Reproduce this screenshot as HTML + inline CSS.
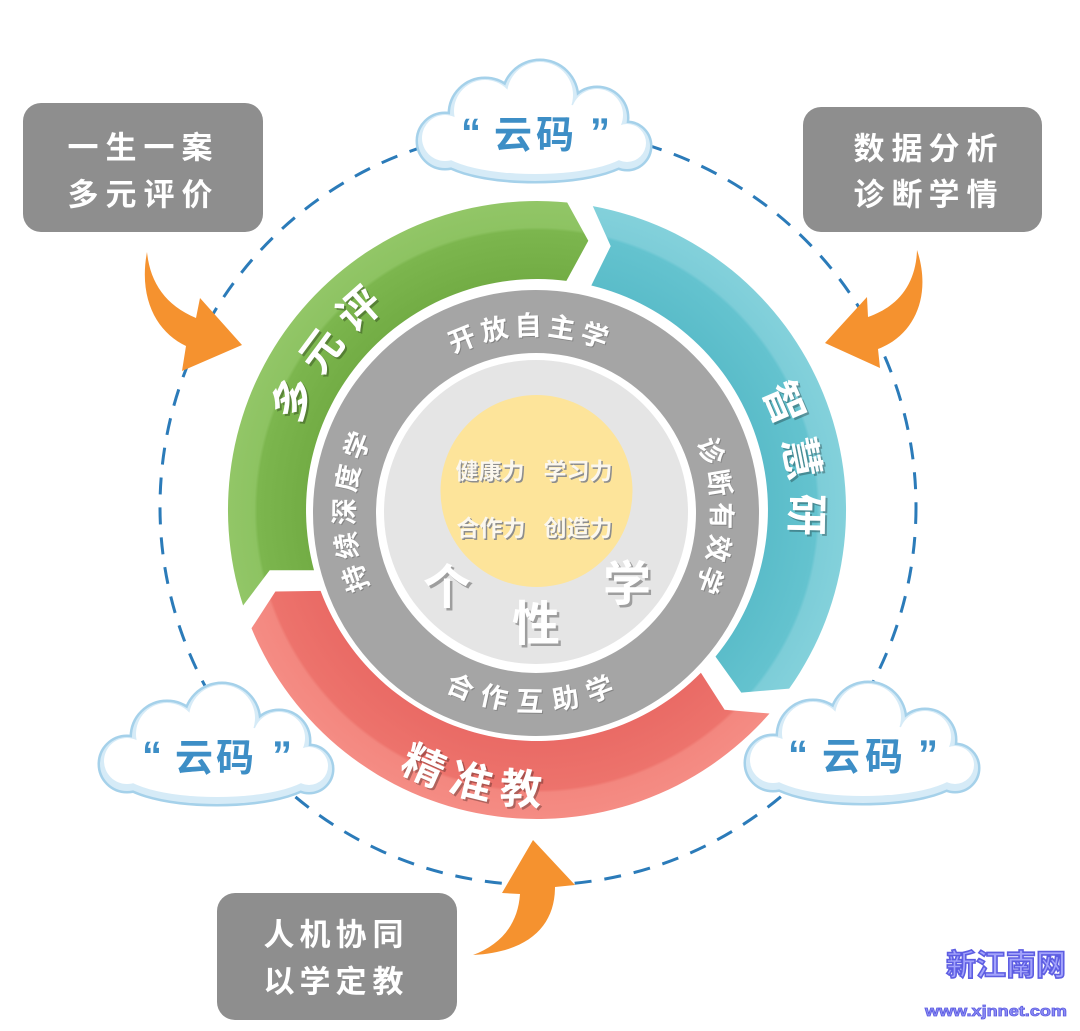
<!DOCTYPE html>
<html>
<head>
<meta charset="utf-8">
<style>
html,body{margin:0;padding:0;background:#fff;}
svg{display:block;}
text{font-family:"Liberation Sans","Noto Sans CJK SC","WenQuanYi Zen Hei",sans-serif;font-weight:bold;}
</style>
</head>
<body>
<svg width="1080" height="1031" viewBox="0 0 1080 1031" xmlns="http://www.w3.org/2000/svg">
<defs>
  <radialGradient id="gg" gradientUnits="userSpaceOnUse" cx="537" cy="510" r="309">
    <stop offset="0.74" stop-color="#72ac44"/>
    <stop offset="0.905" stop-color="#7cb64e"/>
    <stop offset="0.915" stop-color="#8dc362"/>
    <stop offset="1" stop-color="#92c667"/>
  </radialGradient>
  <radialGradient id="tg" gradientUnits="userSpaceOnUse" cx="537" cy="510" r="309">
    <stop offset="0.74" stop-color="#5abcc9"/>
    <stop offset="0.905" stop-color="#64c3cf"/>
    <stop offset="0.915" stop-color="#7dcdd8"/>
    <stop offset="1" stop-color="#83d1db"/>
  </radialGradient>
  <radialGradient id="rg" gradientUnits="userSpaceOnUse" cx="537" cy="510" r="309">
    <stop offset="0.74" stop-color="#e96a65"/>
    <stop offset="0.905" stop-color="#ed736c"/>
    <stop offset="0.915" stop-color="#f3877f"/>
    <stop offset="1" stop-color="#f58c84"/>
  </radialGradient>
  <g id="cs">
    <circle cx="-90" cy="5" r="27"/>
    <circle cx="-50" cy="-22" r="35"/>
    <circle cx="5" cy="-38" r="37"/>
    <circle cx="62" cy="-18" r="30"/>
    <circle cx="92" cy="10" r="23"/>
    <ellipse cx="0" cy="15" rx="100" ry="30"/>
    <ellipse cx="0" cy="0" rx="90" ry="35"/>
  </g>
  <g id="cw">
    <circle cx="-90" cy="2" r="23"/>
    <circle cx="-50" cy="-25" r="31"/>
    <circle cx="5" cy="-41" r="33"/>
    <circle cx="62" cy="-21" r="26"/>
    <circle cx="92" cy="7" r="19"/>
    <ellipse cx="0" cy="11" rx="96" ry="27"/>
    <ellipse cx="0" cy="-3" rx="86" ry="31"/>
  </g>
</defs>

<rect width="1080" height="1031" fill="#fff"/>

<!-- dashed circle -->
<circle cx="538" cy="507" r="378" fill="none" stroke="#2b7bb9" stroke-width="3" stroke-dasharray="17 13"/>

<!-- gray boxes -->
<rect x="23" y="103" width="240" height="129" rx="18" fill="#8e8e8e"/>
<rect x="803" y="107" width="239" height="125" rx="18" fill="#8e8e8e"/>
<rect x="217" y="893" width="240" height="127" rx="18" fill="#8e8e8e"/>
<g font-size="31" fill="#fff" text-anchor="middle" dominant-baseline="central">
  <text x="83 121 159 197" y="148">一生一案</text>
  <text x="83 121 159 197" y="195">多元评价</text>
  <text x="869 907 944 982" y="149">数据分析</text>
  <text x="869 907 944 982" y="195">诊断学情</text>
  <text x="279 315 351 388" y="935">人机协同</text>
  <text x="279 315 351 388" y="982">以学定教</text>
</g>

<!-- orange arrows -->
<g fill="#f5922f">
  <path d="M147,252 C150,282 165,305 196,318 L200,298 L242,345 L182,371 L186,346 C158,333 138,300 147,252 Z"/>
  <path d="M917,250 C916,282 900,306 868,317 L867,297 L825,343 L880,368 L878,349 C915,335 932,295 917,250 Z"/>
  <path d="M473,955 C500,945 518,925 520,894 L502,893 L533,840 L575,885 L555,887 C555,925 530,952 473,955 Z"/>
</g>

<!-- clouds -->
<g>
  <use href="#cs" transform="translate(535,136)" fill="#a5d1ea" stroke="#a5d1ea" stroke-width="5"/>
  <use href="#cs" transform="translate(535,136)" fill="#d6ebf7"/>
  <use href="#cw" transform="translate(535,136)" fill="#fff"/>
  <use href="#cs" transform="translate(217,759)" fill="#a5d1ea" stroke="#a5d1ea" stroke-width="5"/>
  <use href="#cs" transform="translate(217,759)" fill="#d6ebf7"/>
  <use href="#cw" transform="translate(217,759)" fill="#fff"/>
  <use href="#cs" transform="translate(863,758)" fill="#a5d1ea" stroke="#a5d1ea" stroke-width="5"/>
  <use href="#cs" transform="translate(863,758)" fill="#d6ebf7"/>
  <use href="#cw" transform="translate(863,758)" fill="#fff"/>
</g>
<g fill="#3d8ec6" font-size="38" text-anchor="middle">
  <text x="513" y="136" dominant-baseline="central">云</text>
  <text x="555" y="136" dominant-baseline="central">码</text>
  <text x="471" y="146" font-size="40">“</text>
  <text x="600" y="146" font-size="40">”</text>

  <text x="194" y="759" dominant-baseline="central">云</text>
  <text x="235" y="759" dominant-baseline="central">码</text>
  <text x="152" y="769" font-size="40">“</text>
  <text x="282" y="769" font-size="40">”</text>

  <text x="841" y="758" dominant-baseline="central">云</text>
  <text x="884" y="758" dominant-baseline="central">码</text>
  <text x="798" y="768" font-size="40">“</text>
  <text x="928" y="768" font-size="40">”</text>
</g>

<!-- outer colored ring -->
<path d="M243.1,605.5 A309,309 0 0 1 567.2,202.5 L588.3,240.8 L566.4,280.9 A231,231 0 0 0 314.0,570.2 L269.7,570.2 Z" fill="url(#gg)"/>
<path d="M592.8,206.1 A309,309 0 0 1 789.2,688.6 L741.3,692.6 L715.5,656.6 A231,231 0 0 0 591.3,285.5 L610.7,246.1 Z" fill="url(#tg)"/>
<path d="M769.5,713.5 A309,309 0 0 1 251.5,628.3 L275.4,591.5 L320.6,590.9 A231,231 0 0 0 700.9,672.8 L724.6,709.7 Z" fill="url(#rg)"/>

<!-- gray ring -->
<circle cx="536" cy="513" r="191.5" fill="none" stroke="#a5a5a5" stroke-width="63"/>
<circle cx="536" cy="512" r="152" fill="#e5e5e5"/>
<circle cx="536.5" cy="491" r="96" fill="#fde49a"/>

<!-- outer ring text -->
<g font-size="42" text-anchor="middle" dominant-baseline="central">
  <g transform="translate(539,512)" fill="rgba(0,0,0,0.28)">
    <text transform="rotate(294.5) translate(0,-268)">多</text>
    <text transform="rotate(306.5) translate(0,-268)">元</text>
    <text transform="rotate(318.5) translate(0,-268)">评</text>
    <text transform="rotate(66.6) translate(0,-269)">智</text>
    <text transform="rotate(78.8) translate(0,-269)">慧</text>
    <text transform="rotate(91) translate(0,-269)">研</text>
    <text transform="rotate(203.9) translate(0,-280) rotate(180)">精</text>
    <text transform="rotate(193.6) translate(0,-280) rotate(180)">准</text>
    <text transform="rotate(183.3) translate(0,-280) rotate(180)">教</text>
  </g>
  <g transform="translate(537,510)" fill="#fff">
    <text transform="rotate(294.5) translate(0,-268)">多</text>
    <text transform="rotate(306.5) translate(0,-268)">元</text>
    <text transform="rotate(318.5) translate(0,-268)">评</text>
    <text transform="rotate(66.6) translate(0,-269)">智</text>
    <text transform="rotate(78.8) translate(0,-269)">慧</text>
    <text transform="rotate(91) translate(0,-269)">研</text>
    <text transform="rotate(203.9) translate(0,-280) rotate(180)">精</text>
    <text transform="rotate(193.6) translate(0,-280) rotate(180)">准</text>
    <text transform="rotate(183.3) translate(0,-280) rotate(180)">教</text>
  </g>
</g>

<!-- gray ring text -->
<g font-size="27" text-anchor="middle" dominant-baseline="central">
  <g transform="translate(534,515)" fill="rgba(0,0,0,0.2)">
    <text transform="rotate(-22.1) translate(0,-188)">开</text>
    <text transform="rotate(-11.8) translate(0,-188)">放</text>
    <text transform="rotate(-1.5) translate(0,-188)">自</text>
    <text transform="rotate(8.8) translate(0,-188)">主</text>
    <text transform="rotate(19.1) translate(0,-188)">学</text>
    <text transform="rotate(70.5) translate(0,-188)">诊</text>
    <text transform="rotate(80.5) translate(0,-188)">断</text>
    <text transform="rotate(90.5) translate(0,-188)">有</text>
    <text transform="rotate(100.5) translate(0,-188)">效</text>
    <text transform="rotate(110.5) translate(0,-188)">学</text>
    <text transform="rotate(250.1) translate(0,-188)">持</text>
    <text transform="rotate(260.4) translate(0,-188)">续</text>
    <text transform="rotate(270.7) translate(0,-188)">深</text>
    <text transform="rotate(281) translate(0,-188)">度</text>
    <text transform="rotate(291.3) translate(0,-188)">学</text>
    <text transform="rotate(202.8) translate(0,-188) rotate(180)">合</text>
    <text transform="rotate(192) translate(0,-188) rotate(180)">作</text>
    <text transform="rotate(181) translate(0,-188) rotate(180)">互</text>
    <text transform="rotate(170) translate(0,-188) rotate(180)">助</text>
    <text transform="rotate(159.2) translate(0,-188) rotate(180)">学</text>
  </g>
  <g transform="translate(533,514)" fill="#fff">
    <text transform="rotate(-22.1) translate(0,-188)">开</text>
    <text transform="rotate(-11.8) translate(0,-188)">放</text>
    <text transform="rotate(-1.5) translate(0,-188)">自</text>
    <text transform="rotate(8.8) translate(0,-188)">主</text>
    <text transform="rotate(19.1) translate(0,-188)">学</text>
    <text transform="rotate(70.5) translate(0,-188)">诊</text>
    <text transform="rotate(80.5) translate(0,-188)">断</text>
    <text transform="rotate(90.5) translate(0,-188)">有</text>
    <text transform="rotate(100.5) translate(0,-188)">效</text>
    <text transform="rotate(110.5) translate(0,-188)">学</text>
    <text transform="rotate(250.1) translate(0,-188)">持</text>
    <text transform="rotate(260.4) translate(0,-188)">续</text>
    <text transform="rotate(270.7) translate(0,-188)">深</text>
    <text transform="rotate(281) translate(0,-188)">度</text>
    <text transform="rotate(291.3) translate(0,-188)">学</text>
    <text transform="rotate(202.8) translate(0,-188) rotate(180)">合</text>
    <text transform="rotate(192) translate(0,-188) rotate(180)">作</text>
    <text transform="rotate(181) translate(0,-188) rotate(180)">互</text>
    <text transform="rotate(170) translate(0,-188) rotate(180)">助</text>
    <text transform="rotate(159.2) translate(0,-188) rotate(180)">学</text>
  </g>
</g>

<!-- center texts -->
<g font-size="23" text-anchor="middle" dominant-baseline="central">
  <g fill="#8d8d8d" transform="translate(1.5,1.5)">
    <text x="490" y="471">健康力</text>
    <text x="578" y="471">学习力</text>
    <text x="491" y="528">合作力</text>
    <text x="578" y="528">创造力</text>
  </g>
  <g fill="#fbf7ee">
    <text x="490" y="471">健康力</text>
    <text x="578" y="471">学习力</text>
    <text x="491" y="528">合作力</text>
    <text x="578" y="528">创造力</text>
  </g>
</g>
<g font-size="48" text-anchor="middle" dominant-baseline="central">
  <g fill="#9e9e9e" transform="translate(2.5,2.5)">
    <text x="447" y="588">个</text>
    <text x="536" y="625">性</text>
    <text x="627" y="585">学</text>
  </g>
  <g fill="#fff">
    <text x="447" y="588">个</text>
    <text x="536" y="625">性</text>
    <text x="627" y="585">学</text>
  </g>
</g>

<!-- watermark -->
<text x="1006" y="966" font-size="30" text-anchor="middle" dominant-baseline="central" fill="#a3a3fb" stroke="#5d5de2" stroke-width="1.6">新江南网</text>
<text x="925" y="1016" font-size="15" textLength="142" lengthAdjust="spacingAndGlyphs" fill="#9090f5" stroke="#5d5de2" stroke-width="0.8">www.xjnnet.com</text>
</svg>
</body>
</html>
